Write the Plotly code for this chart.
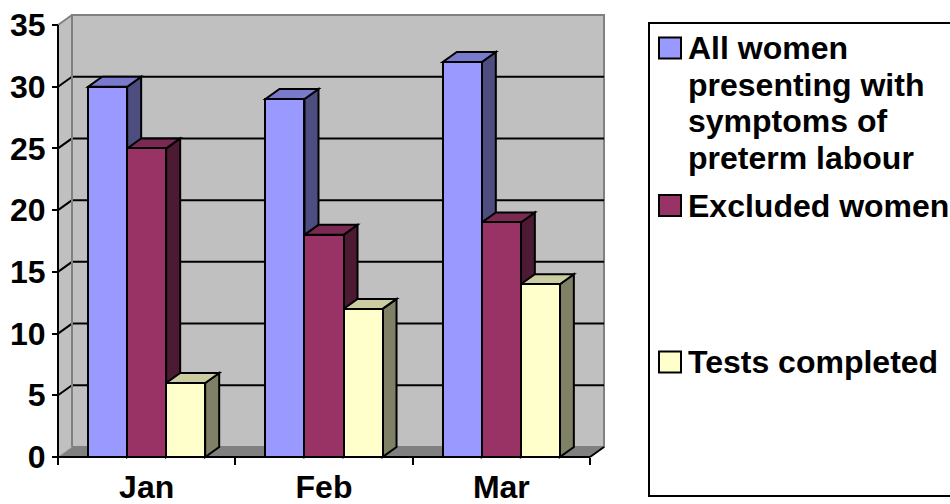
import plotly.graph_objects as go

# ---------------- data ----------------
months = ["Jan", "Feb", "Mar"]
series_names = ["All women presenting with symptoms of preterm labour",
                "Excluded women", "Tests completed"]
legend_lines = [["All women", "presenting with", "symptoms of", "preterm labour"],
                ["Excluded women"],
                ["Tests completed"]]
all_women = [30, 29, 32]
excluded_women = [25, 18, 19]
tests_completed = [6, 12, 14]
y_tick_values = [0, 5, 10, 15, 20, 25, 30, 35]

# ---------------- styles ----------------
front_colors = ["#9999FF", "#993366", "#FFFFCC"]
top_colors = ["#7A7ACC", "#7A2952", "#CCCCA3"]
side_colors = ["#4D4D80", "#4D1A33", "#808066"]
FONT = "Liberation Sans, Arial, sans-serif"
FSIZE = 32

values = [all_women, excluded_women, tests_completed]

W, H = 950, 504
FRONT_L, FRONT_R = 58, 590
BASE_Y, TOP_Y = 457, 25
DEPTH_PX_X, DEPTH_PX_Y = 14, 10
PAD_L, PAD_B, PAD_T, PAD_R = 6, 6, 3, 3
YMAX = 35

px_per_cat = (FRONT_R - FRONT_L) / len(months)
px_per_unit = (BASE_Y - TOP_Y) / YMAX
DX = DEPTH_PX_X / px_per_cat
DY = DEPTH_PX_Y / px_per_unit

plot_l = FRONT_L - PAD_L
plot_r = FRONT_R + DEPTH_PX_X + PAD_R
plot_t = TOP_Y - DEPTH_PX_Y - PAD_T
plot_b = BASE_Y + PAD_B

XL, XR = -0.5, len(months) - 0.5
xr = [XL - PAD_L / px_per_cat, XR + DX + PAD_R / px_per_cat]
yr = [-PAD_B / px_per_unit, YMAX + DY + PAD_T / px_per_unit]

BAR_W = 0.22
offsets = [-0.33, -0.11, 0.11]


def path(pts):
    return "M " + " L ".join(f"{x},{y}" for x, y in pts) + " Z"


def px2paper_x(px):
    return (px - plot_l) / (plot_r - plot_l)


def px2paper_y(py):
    return (plot_b - py) / (plot_b - plot_t)


shapes = []
BELOW = "below"
# back wall
shapes.append(dict(type="rect", xref="x", yref="y", x0=XL + DX, x1=XR + DX, y0=DY, y1=YMAX + DY,
                   fillcolor="#C0C0C0", line=dict(color="#808080", width=2), layer=BELOW))
# left wall
shapes.append(dict(type="path", xref="x", yref="y",
                   path=path([(XL, 0), (XL, YMAX), (XL + DX, YMAX + DY), (XL + DX, DY)]),
                   fillcolor="#C0C0C0", line=dict(width=0), layer=BELOW))
# floor
shapes.append(dict(type="path", xref="x", yref="y",
                   path=path([(XL, 0), (XR, 0), (XR + DX, DY), (XL + DX, DY)]),
                   fillcolor="#808080", line=dict(width=0), layer=BELOW))
# gridlines on back wall and left wall
for v in y_tick_values[1:-1]:
    shapes.append(dict(type="line", xref="x", yref="y", x0=XL + DX, x1=XR + DX, y0=v + DY, y1=v + DY,
                       line=dict(color="black", width=2), layer=BELOW))
    shapes.append(dict(type="line", xref="x", yref="y", x0=XL, x1=XL + DX, y0=v, y1=v + DY,
                       line=dict(color="black", width=2), layer=BELOW))
# wall edges (grey)
shapes.append(dict(type="line", xref="x", yref="y", x0=XL + DX, x1=XL + DX, y0=DY, y1=YMAX + DY,
                   line=dict(color="#808080", width=2), layer=BELOW))
shapes.append(dict(type="line", xref="x", yref="y", x0=XL, x1=XL + DX, y0=YMAX, y1=YMAX + DY,
                   line=dict(color="#808080", width=2), layer=BELOW))
shapes.append(dict(type="line", xref="x", yref="y", x0=XL, x1=XL + DX, y0=0, y1=DY,
                   line=dict(color="#A0A0A0", width=1), layer=BELOW))
# axis lines (black)
shapes.append(dict(type="line", xref="x", yref="y", x0=XL, x1=XL, y0=0, y1=YMAX,
                   line=dict(color="black", width=2), layer=BELOW))
shapes.append(dict(type="line", xref="x", yref="y", x0=XL, x1=XR, y0=0, y1=0,
                   line=dict(color="black", width=2), layer=BELOW))
shapes.append(dict(type="line", xref="x", yref="y", x0=XR, x1=XR + DX, y0=0, y1=DY,
                   line=dict(color="black", width=2), layer=BELOW))

# 3-D faces of the bars (painter's order, left to right)
for i in range(len(months)):
    for s in range(len(values)):
        v = values[s][i]
        x0 = i + offsets[s]
        x1 = x0 + BAR_W
        shapes.append(dict(type="path", xref="x", yref="y",
                           path=path([(x1, 0), (x1, v), (x1 + DX, v + DY), (x1 + DX, DY)]),
                           fillcolor=side_colors[s], line=dict(color="black", width=2), layer=BELOW))
        shapes.append(dict(type="path", xref="x", yref="y",
                           path=path([(x0, v), (x1, v), (x1 + DX, v + DY), (x0 + DX, v + DY)]),
                           fillcolor=top_colors[s], line=dict(color="black", width=2), layer=BELOW))

fig = go.Figure()
for s in range(len(values)):
    fig.add_trace(go.Bar(
        x=months, y=values[s], name=series_names[s],
        width=[BAR_W] * len(months), offset=offsets[s],
        marker=dict(color=front_colors[s], line=dict(color="black", width=2)),
        showlegend=False,
    ))

# ---------------- manual legend ----------------
LEG_L, LEG_T, LEG_B = 649, 23, 496
shapes.append(dict(type="rect", xref="paper", yref="paper",
                   x0=px2paper_x(LEG_L), x1=px2paper_x(990),
                   y0=px2paper_y(LEG_B), y1=px2paper_y(LEG_T),
                   line=dict(color="black", width=2), fillcolor="white", layer="above"))
item_centers = [48, 205.5, 362]
LINE_STEP = 36.7
annotations = []
for s in range(len(values)):
    c = item_centers[s]
    shapes.append(dict(type="rect", xref="paper", yref="paper",
                       x0=px2paper_x(659), x1=px2paper_x(681),
                       y0=px2paper_y(c + 10.5), y1=px2paper_y(c - 10.5),
                       fillcolor=front_colors[s], line=dict(color="black", width=2), layer="above"))
    for k, line in enumerate(legend_lines[s]):
        annotations.append(dict(
            xref="paper", yref="paper", x=px2paper_x(686), y=px2paper_y(c + k * LINE_STEP),
            xanchor="left", yanchor="middle", text=line, showarrow=False,
            font=dict(family=FONT, size=FSIZE, color="black", weight="bold")))

fig.update_layout(
    width=W, height=H,
    margin=dict(l=plot_l, r=W - plot_r, t=plot_t, b=H - plot_b, pad=0, autoexpand=False),
    paper_bgcolor="white", plot_bgcolor="white",
    barmode="overlay", bargap=0,
    shapes=shapes, annotations=annotations,
    showlegend=False,
    xaxis=dict(type="category", range=xr, tickson="boundaries", ticks="outside",
               ticklen=7, tickwidth=2, tickcolor="black", ticklabelstandoff=8,
               showgrid=False, zeroline=False, showline=False, automargin=False,
               anchor="free", position=PAD_B / (plot_b - plot_t),
               tickfont=dict(family=FONT, size=FSIZE, color="black", weight="bold"),
               fixedrange=True),
    yaxis=dict(range=yr, tickmode="array", tickvals=y_tick_values, ticks="outside",
               ticklen=6, tickwidth=2, tickcolor="black",
               showgrid=False, zeroline=False, showline=False, automargin=False,
               anchor="free", position=PAD_L / (plot_r - plot_l),
               tickfont=dict(family=FONT, size=FSIZE, color="black", weight="bold"),
               fixedrange=True),
)

fig.write_html("out.html")
